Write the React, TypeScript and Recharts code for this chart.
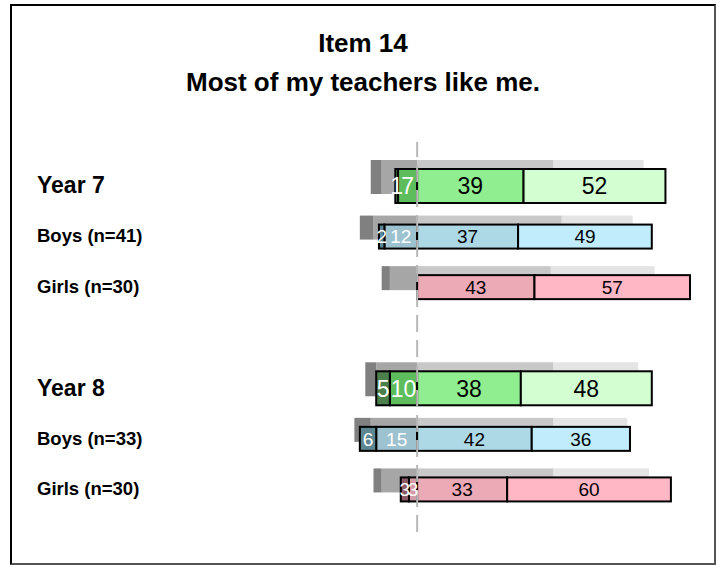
import React from 'react';
import { BarChart, Bar, XAxis, YAxis, ReferenceLine, LabelList } from 'recharts';

// rows from top to bottom, 'gap' is the empty spacer between the years
const rowIds = ['y7', 'b7', 'g7', 'gap', 'y8', 'b8', 'g8'];
const rowLabels = ['Year 7', 'Boys (n=41)', 'Girls (n=30)', '', 'Year 8', 'Boys (n=33)', 'Girls (n=30)'];
const rowKinds = ['year', 'boys', 'girls', 'gap', 'year', 'boys', 'girls'];

// school responses, % (strongly disagree, disagree, agree, strongly agree)
const strongDisagree = [1, 2, 0, null, 5, 6, 3];
const disagree = [7, 12, 0, null, 10, 15, 3];
const agree = [39, 37, 43, null, 38, 42, 33];
const strongAgree = [52, 49, 57, null, 48, 36, 60];

// comparison responses drawn as the grey shadow bars
const cmpStrongDisagree = [4, 5, 3, null, 4, 6, 3];
const cmpDisagree = [13, 16, 10, null, 15, 17, 13];
const cmpAgree = [50, 53, 49, null, 50, 50, 50];
const cmpStrongAgree = [33, 26, 38, null, 31, 27, 35];

const palette: Record<string, string[]> = {
  year: ['#4b7f4b', '#5dbd5d', '#90ee90', '#d2fed2'],
  boys: ['#5e8693', '#9cc2d0', '#add8e6', '#c1ecfc'],
  girls: ['#8b5b68', '#d39aa7', '#eca9b6', '#ffb7c6'],
};
const greys = ['#808080', '#a6a6a6', '#c8c8c8', '#e4e4e4'];
const FONT = '"Liberation Sans", Arial, sans-serif';

const neg = (v: number | null) => (v == null ? null : -v);

const data = rowIds.map((id, i) => ({
  id,
  kind: rowKinds[i],
  sd: neg(strongDisagree[i]),
  d: neg(disagree[i]),
  a: agree[i],
  sa: strongAgree[i],
  csd: neg(cmpStrongDisagree[i]),
  cd: neg(cmpDisagree[i]),
  ca: cmpAgree[i],
  csa: cmpStrongAgree[i],
}));

const makeShape = (level: number, shadow: boolean) => (props: any) => {
  const { x, y, width, height, payload } = props;
  if (!payload || payload.kind === 'gap' || !width || Math.abs(width) < 0.01) return <g />;
  const grow = payload.kind === 'year' ? 5 : 0;
  let rx = x;
  let rw = width;
  if (rw < 0) {
    rx = x + rw;
    rw = -rw;
  }
  const fill = shadow ? greys[level] : palette[payload.kind][level];
  return (
    <rect
      x={rx}
      y={y - grow}
      width={rw}
      height={height + grow * 2}
      fill={fill}
      stroke={shadow ? 'none' : '#000'}
      strokeWidth={shadow ? 0 : 2}
    />
  );
};

const makeLabel = (level: number) => (props: any) => {
  const vb = props.viewBox && props.viewBox.width !== undefined ? props.viewBox : props;
  const { value, index } = props;
  if (!value) return null;
  const kind = rowKinds[index];
  const size = kind === 'year' ? 23 : 19;
  return (
    <text
      x={vb.x + vb.width / 2}
      y={vb.y + vb.height / 2}
      dy="0.36em"
      textAnchor="middle"
      fontSize={size}
      fontFamily={FONT}
      fill={level < 2 ? '#fff' : '#000'}
    >
      {Math.abs(value)}
    </text>
  );
};

const RowTick = (props: any) => {
  const { y, payload } = props;
  const i = rowIds.indexOf(payload.value);
  if (i < 0 || rowKinds[i] === 'gap') return <g />;
  const isYear = rowKinds[i] === 'year';
  return (
    <text
      x={37}
      y={y + 3.7}
      dy="0.36em"
      textAnchor="start"
      fontWeight="bold"
      fontSize={isYear ? 23 : 18.5}
      fontFamily={FONT}
      fill="#000"
    >
      {rowLabels[i]}
    </text>
  );
};

const mainKeys = ['d', 'sd', 'a', 'sa'];
const mainLevels = [1, 0, 2, 3];
const shadowKeys = ['cd', 'csd', 'ca', 'csa'];

export default function App() {
  return (
    <div style={{ position: 'relative', width: 719, height: 565, overflow: 'hidden' }}>
      <style>{'html, body { margin: 0; padding: 0; overflow: hidden; }'}</style>
      <div
        style={{
          position: 'absolute',
          left: 10,
          top: 4,
          width: 706,
          height: 561,
          boxSizing: 'border-box',
          borderLeft: '2px solid #000',
          borderTop: '2px solid #000',
          borderRight: '2px solid #555',
          borderBottom: '2px solid #555',
        }}
      />
      <div
        style={{
          position: 'absolute',
          left: 0,
          width: 726,
          top: 24,
          textAlign: 'center',
          fontFamily: FONT,
          fontWeight: 'bold',
          fontSize: 26,
          lineHeight: '39px',
        }}
      >
        <div>Item 14</div>
        <div>Most of my teachers like me.</div>
      </div>
      <div style={{ position: 'absolute', left: 0, top: 0 }}>
        <BarChart
          width={719}
          height={565}
          data={data}
          layout="vertical"
          stackOffset="sign"
          barGap={-15}
          margin={{ top: 142, right: 29, bottom: 33, left: 8 }}
        >
          <XAxis type="number" domain={[-40, 100]} hide />
          <YAxis
            type="category"
            dataKey="id"
            width={300}
            axisLine={false}
            tickLine={false}
            tick={<RowTick />}
            padding={{ top: 14, bottom: 22 }}
            interval={0}
          />
          <ReferenceLine x={0} stroke="#b8b8b8" strokeWidth={2} strokeDasharray="17 8" />
          {shadowKeys.map((k, i) => (
            <Bar
              key={k}
              dataKey={k}
              stackId="shadow"
              barSize={24}
              shape={makeShape(mainLevels[i], true)}
              isAnimationActive={false}
            />
          ))}
          {mainKeys.map((k, i) => (
            <Bar
              key={k}
              dataKey={k}
              stackId="main"
              barSize={24}
              shape={makeShape(mainLevels[i], false)}
              isAnimationActive={false}
            >
              <LabelList dataKey={k} content={makeLabel(mainLevels[i])} />
            </Bar>
          ))}
        </BarChart>
      </div>
    </div>
  );
}
